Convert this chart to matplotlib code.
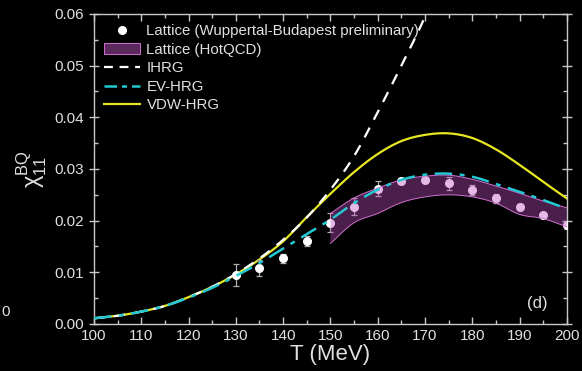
import numpy as np
import matplotlib
matplotlib.use("Agg")
import matplotlib.pyplot as plt
from matplotlib.patches import Patch
from matplotlib.lines import Line2D
from matplotlib.ticker import MultipleLocator, FormatStrFormatter

plt.rcParams['font.family'] = ['Liberation Sans', 'DejaVu Sans']
plt.rcParams['mathtext.fontset'] = 'dejavusans'
plt.rcParams['mathtext.default'] = 'regular'

# Lattice, Wuppertal-Budapest (preliminary)
T_wb = [130, 135, 140, 145, 150, 155, 160, 165, 170, 175, 180, 185, 190, 195, 200]
chi_wb = [0.0095, 0.0108, 0.0127, 0.0161, 0.0196, 0.0227, 0.0262, 0.0276,
          0.0279, 0.0272, 0.0259, 0.0243, 0.0227, 0.0210, 0.0192]
err_wb = [0.0022, 0.0016, 0.0009, 0.0010, 0.0018, 0.0017, 0.0015, 0.0006,
          0.0006, 0.0012, 0.0010, 0.0008, 0.0006, 0.0005, 0.0008]

# Lattice, HotQCD band
T_hot = [150, 155, 160, 165, 170, 175, 180, 185, 190, 195, 200]
hot_hi = [0.0214, 0.0244, 0.0263, 0.0279, 0.0286, 0.0288, 0.0280, 0.0267, 0.0253, 0.0238, 0.0225]
hot_lo = [0.0156, 0.0196, 0.0214, 0.0235, 0.0246, 0.0250, 0.0246, 0.0234, 0.0212, 0.0204, 0.0188]

# HRG model curves
T_model = [100, 105, 110, 115, 120, 125, 130, 135, 140, 145, 150,
           155, 160, 165, 170, 175, 180, 185, 190, 195, 200]
T_ihrg = [100, 105, 110, 115, 120, 125, 130, 135, 140, 145, 150, 155, 160, 165, 170, 175]
ihrg = [0.0011, 0.0016, 0.0024, 0.0035, 0.0052, 0.0072, 0.0097, 0.0127,
        0.0163, 0.0206, 0.0260, 0.0325, 0.0410, 0.0500, 0.0595, 0.0710]
evhrg = [0.0011, 0.0016, 0.0024, 0.0035, 0.0051, 0.0070, 0.0093, 0.0118, 0.0146, 0.0174, 0.0202,
         0.0234, 0.0260, 0.0279, 0.0289, 0.0291, 0.0285, 0.0271, 0.0256, 0.0240, 0.0223]
vdw = [0.0011, 0.0016, 0.0024, 0.0035, 0.0052, 0.0072, 0.0096, 0.0125, 0.0160, 0.0207, 0.0252,
       0.0294, 0.0329, 0.0354, 0.0366, 0.0369, 0.0360, 0.0338, 0.0308, 0.0275, 0.0243]


def smooth(x, y, n=8):
    """Catmull-Rom curve through the given points."""
    x = np.asarray(x, float)
    y = np.asarray(y, float)
    px = np.concatenate([[2 * x[0] - x[1]], x, [2 * x[-1] - x[-2]]])
    py = np.concatenate([[2 * y[0] - y[1]], y, [2 * y[-1] - y[-2]]])
    xs, ys = [], []
    t = np.linspace(0, 1, n, endpoint=False)
    for i in range(1, len(px) - 2):
        for p, out in ((px, xs), (py, ys)):
            p0, p1, p2, p3 = p[i - 1], p[i], p[i + 1], p[i + 2]
            out.append(0.5 * (2 * p1 + (-p0 + p2) * t
                              + (2 * p0 - 5 * p1 + 4 * p2 - p3) * t ** 2
                              + (-p0 + 3 * p1 - 3 * p2 + p3) * t ** 3))
    xs.append([x[-1]])
    ys.append([y[-1]])
    return np.concatenate(xs), np.concatenate(ys)


fg = '#e0e0e0'
cyan = '#22c8d2'
yellow = '#e6e622'
band_face = '#be50be'
band_edge = '#d070d0'

fig = plt.figure(figsize=(5.82, 3.71), dpi=100, facecolor='black')
ax = fig.add_axes([0.1615, 0.1267, 0.8125, 0.8356], facecolor='black')

ax.plot(*smooth(T_model, vdw), color=yellow, lw=1.6, zorder=3)
ax.plot(*smooth(T_ihrg, ihrg), color='white', lw=1.6, dashes=(5, 4), zorder=3)
ax.errorbar(T_wb, chi_wb, yerr=err_wb, fmt='o', color='white', ms=5.5,
            ecolor='#b0b0b0', elinewidth=0.9, capsize=2.5, capthick=0.9, zorder=4)
hx, hhi = smooth(T_hot, hot_hi)
_, hlo = smooth(T_hot, hot_lo)
ax.fill_between(hx, hlo, hhi, facecolor=band_face, alpha=0.4,
                edgecolor='none', zorder=5)
ax.plot(hx, hhi, color=band_edge, lw=0.7, zorder=5)
ax.plot(hx, hlo, color=band_edge, lw=0.7, zorder=5)
ax.plot(*smooth(T_model, evhrg), color=cyan, lw=1.8, dashes=(7, 3, 2, 3), zorder=6)

ax.set_xlim(100, 200)
ax.set_ylim(0, 0.06)
ax.xaxis.set_major_locator(MultipleLocator(10))
ax.xaxis.set_minor_locator(MultipleLocator(5))
ax.yaxis.set_major_locator(MultipleLocator(0.01))
ax.yaxis.set_minor_locator(MultipleLocator(0.005))
ax.yaxis.set_major_formatter(FormatStrFormatter('%.2f'))

for s in ax.spines.values():
    s.set_color('#c8c8c8')
    s.set_linewidth(1.0)
ax.tick_params(which='both', direction='in', top=True, right=True,
               colors='#c8c8c8', labelcolor=fg, labelsize=11, width=1.0)
ax.tick_params(which='major', length=5)
ax.tick_params(which='minor', length=3)
ax.tick_params(axis='y', which='major', direction='inout', length=7)

ax.set_xlabel('T (MeV)', color=fg, fontsize=16, labelpad=1)
ax.set_ylabel(r'$\chi_{11}^{BQ}$', color=fg, fontsize=17, labelpad=4)

ax.text(0.96, 0.065, '(d)', transform=ax.transAxes, ha='right', va='center',
        color=fg, fontsize=12)

handles = [
    Line2D([], [], marker='o', ls='none', color='white', ms=5.5),
    Patch(facecolor='#5a2a5c', edgecolor=band_edge, lw=0.7),
    Line2D([], [], color='white', lw=1.6, dashes=(4, 3)),
    Line2D([], [], color=cyan, lw=1.8, dashes=(5, 2, 2, 2)),
    Line2D([], [], color=yellow, lw=1.6),
]
labels = ['Lattice (Wuppertal-Budapest preliminary)', 'Lattice (HotQCD)',
          'IHRG', 'EV-HRG', 'VDW-HRG']
leg = ax.legend(handles, labels, loc='upper left', bbox_to_anchor=(0.0, 1.0),
                frameon=False, fontsize=10.8, labelcolor=fg, handlelength=2.4,
                handletextpad=0.4, labelspacing=0.3, borderaxespad=0.3)

# stray label from the neighbouring panel
fig.text(0.003, 0.16, '0', color=fg, fontsize=11, ha='left', va='center')

fig.savefig('out.png', dpi=100, facecolor='black')
